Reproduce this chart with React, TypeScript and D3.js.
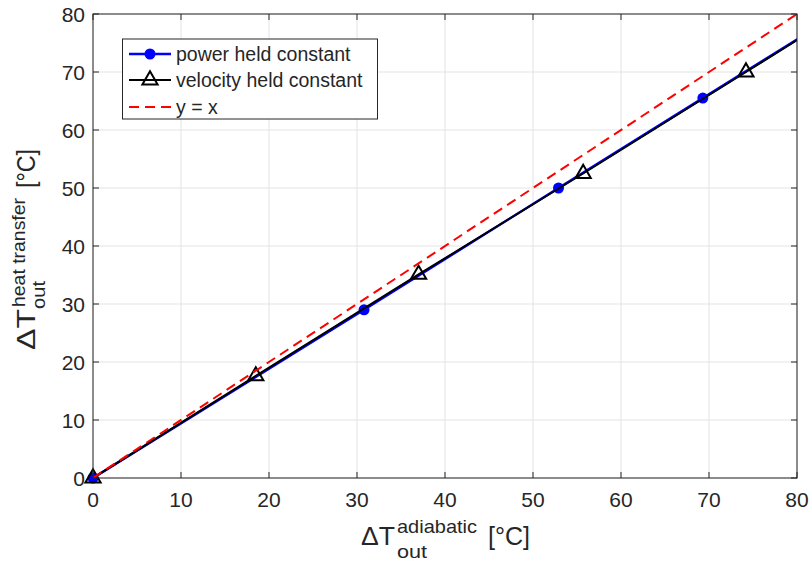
import React from "react";
import * as d3 from "d3";

const powerX = [0, 30.8, 52.9, 69.3, 81.9];
const powerY = [0, 29.0, 50.0, 65.5, 77.4];
const velX = [0, 18.5, 37.0, 55.7, 74.2, 92.7];
const velY = [0, 17.6, 35.1, 52.5, 70.0, 87.5];
const idX = [0, 80];
const idY = [0, 80];
const xTicks = [0, 10, 20, 30, 40, 50, 60, 70, 80];
const yTicks = [0, 10, 20, 30, 40, 50, 60, 70, 80];
const legendLabels = ["power held constant", "velocity held constant", "y = x"];

const W = 811, H = 562;
const L = 93, R = 797, T = 14, B = 478;
const FONT = "'Liberation Sans', Arial, Helvetica, sans-serif";
const AX = "#262626";

export default function App() {
  const x = d3.scaleLinear().domain([0, 80]).range([L, R]);
  const y = d3.scaleLinear().domain([0, 80]).range([B, T]);
  const line = d3.line<[number, number]>().x(d => x(d[0])).y(d => y(d[1]));
  const pw = powerX.map((v, i) => [v, powerY[i]] as [number, number]);
  const ve = velX.map((v, i) => [v, velY[i]] as [number, number]);
  const id = idX.map((v, i) => [v, idY[i]] as [number, number]);
  const inside = (d: [number, number]) => d[0] >= 0 && d[0] <= 80 && d[1] >= 0 && d[1] <= 80;
  const tri = d3.symbol(d3.symbolTriangle, 100)()!;
  const tk = 6;
  const adj = "spacingAndGlyphs";
  return (
    <svg width={W} height={H} style={{ position: "absolute", left: 0, top: 0 }} fontFamily={FONT}>
      <rect x={0} y={0} width={W} height={H} fill="#fff" />
      <defs>
        <clipPath id="plotclip">
          <rect x={L} y={T} width={R - L} height={B - T} />
        </clipPath>
      </defs>
      {/* grid */}
      {xTicks.map(t => (
        <line key={"gx" + t} x1={x(t)} x2={x(t)} y1={T} y2={B} stroke="#e3e3e3" strokeWidth={1} />
      ))}
      {yTicks.map(t => (
        <line key={"gy" + t} x1={L} x2={R} y1={y(t)} y2={y(t)} stroke="#e3e3e3" strokeWidth={1} />
      ))}
      {/* ticks */}
      {xTicks.map(t => (
        <g key={"tx" + t}>
          <line x1={x(t)} x2={x(t)} y1={B} y2={B - tk} stroke={AX} />
          <line x1={x(t)} x2={x(t)} y1={T} y2={T + tk} stroke={AX} />
          <text x={x(t)} y={507} textAnchor="middle" fontSize={21} fill={AX}>{t}</text>
        </g>
      ))}
      {yTicks.map(t => (
        <g key={"ty" + t}>
          <line x1={L} x2={L + tk} y1={y(t)} y2={y(t)} stroke={AX} />
          <line x1={R} x2={R - tk} y1={y(t)} y2={y(t)} stroke={AX} />
          <text x={85} y={y(t) + 7.5} textAnchor="end" fontSize={21} fill={AX}>{t}</text>
        </g>
      ))}
      {/* data */}
      <g clipPath="url(#plotclip)">
        <path d={line(pw)!} fill="none" stroke="#0000ff" strokeWidth={2.5} />
      </g>
      {pw.filter(inside).map((d, i) => (
        <circle key={"pc" + i} cx={x(d[0])} cy={y(d[1])} r={5.5} fill="#0000ff" />
      ))}
      <g clipPath="url(#plotclip)">
        <path d={line(ve)!} fill="none" stroke="#000" strokeWidth={2} />
      </g>
      {ve.filter(inside).map((d, i) => (
        <path key={"vt" + i} d={tri} transform={`translate(${x(d[0])},${y(d[1])})`} fill="none" stroke="#000" strokeWidth={2} />
      ))}
      <g clipPath="url(#plotclip)">
        <path d={line(id)!} fill="none" stroke="#ff0000" strokeWidth={2} strokeDasharray="10,6" />
      </g>
      {/* frame */}
      <rect x={L} y={T} width={R - L} height={B - T} fill="none" stroke={AX} strokeWidth={1} />
      {/* legend */}
      <g>
        <rect x={122.5} y={39} width={255} height={80} fill="#fff" stroke={AX} strokeWidth={1} />
        <line x1={129} x2={171} y1={54} y2={54} stroke="#0000ff" strokeWidth={2.5} />
        <circle cx={150} cy={54} r={5.5} fill="#0000ff" />
        <line x1={129} x2={171} y1={80} y2={80} stroke="#000" strokeWidth={2} />
        <path d={tri} transform="translate(150,80)" fill="none" stroke="#000" strokeWidth={2} />
        <line x1={129} x2={171} y1={107} y2={107} stroke="#ff0000" strokeWidth={2} strokeDasharray="10,6" />
        {legendLabels.map((s, i) => (
          <text key={s} x={176} y={[54, 80, 107][i] + 7} fontSize={19.5} fill={AX}>{s}</text>
        ))}
      </g>
      {/* x label */}
      <g fill={AX}>
        <text x={361} y={545} fontSize={26} textLength={34} lengthAdjust={adj}>ΔT</text>
        <text x={397} y={533} fontSize={19} textLength={80} lengthAdjust={adj}>adiabatic</text>
        <text x={397} y={558} fontSize={19} textLength={30} lengthAdjust={adj}>out</text>
        <text x={488} y={545} fontSize={25} textLength={42} lengthAdjust={adj}>[°C]</text>
      </g>
      {/* y label */}
      <g fill={AX}>
        <text transform="translate(35,350) rotate(-90)" fontSize={26} textLength={41} lengthAdjust={adj}>ΔT</text>
        <text transform="translate(25,307) rotate(-90)" fontSize={19} textLength={109} lengthAdjust={adj}>heat transfer</text>
        <text transform="translate(45,309) rotate(-90)" fontSize={19} textLength={28} lengthAdjust={adj}>out</text>
        <text transform="translate(35,188) rotate(-90)" fontSize={25} textLength={39} lengthAdjust={adj}>[°C]</text>
      </g>
    </svg>
  );
}
